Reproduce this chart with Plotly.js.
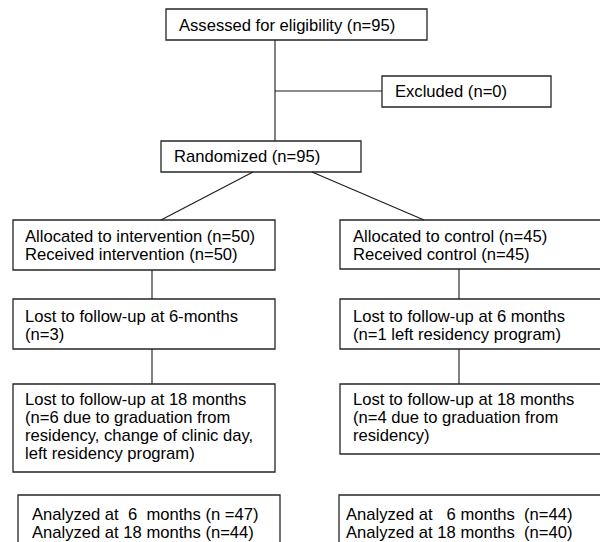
<!DOCTYPE html>
<html>
<head>
<meta charset="utf-8">
<script src="https://cdn.plot.ly/plotly-3.0.1.min.js"></script>
<style>html,body{margin:0;padding:0;background:#fff;}#chart{width:600px;height:542px;}</style>
</head>
<body>
<div id="chart"></div>
<script>
// ---- Flow-chart content (values) ----
var NB = "\u00A0";
var assessedLines   = ["Assessed for eligibility (n=95)"];
var excludedLines   = ["Excluded (n=0)"];
var randomizedLines = ["Randomized (n=95)"];
var intAllocLines   = ["Allocated to intervention (n=50)", "Received intervention (n=50)"];
var ctrlAllocLines  = ["Allocated to control (n=45)", "Received control (n=45)"];
var intLost6Lines   = ["Lost to follow-up at 6-months", "(n=3)"];
var ctrlLost6Lines  = ["Lost to follow-up at 6 months", "(n=1 left residency program)"];
var intLost18Lines  = ["Lost to follow-up at 18 months", "(n=6 due to graduation from", "residency, change of clinic day,", "left residency program)"];
var ctrlLost18Lines = ["Lost to follow-up at 18 months", "(n=4 due to graduation from", "residency)"];
var intAnalyzedLines  = ["Analyzed at" + NB + " 6" + NB + " months (n =47)", "Analyzed at 18 months (n=44)"];
var ctrlAnalyzedLines = ["Analyzed at" + NB + NB + " 6 months" + NB + " (n=44)", "Analyzed at 18 months" + NB + " (n=40)"];

// ---- Layout geometry (positions, in page pixels) ----
var boxes = [
  {lines: assessedLines,    x0:166, y0:9,   x1:427, y1:40,  tx:177, ty:25,  dy:18},
  {lines: excludedLines,    x0:382, y0:76,  x1:551, y1:107, tx:393, ty:91.5,dy:18},
  {lines: randomizedLines,  x0:161, y0:141, x1:361, y1:172, tx:172, ty:156.5,dy:18},
  {lines: intAllocLines,    x0:13,  y0:220, x1:275, y1:270, tx:23,  ty:236, dy:18},
  {lines: ctrlAllocLines,   x0:340, y0:220, x1:603, y1:269, tx:351, ty:236, dy:18},
  {lines: intLost6Lines,    x0:13,  y0:299, x1:275, y1:349, tx:23,  ty:316, dy:18},
  {lines: ctrlLost6Lines,   x0:340, y0:299, x1:603, y1:349, tx:351, ty:316, dy:18},
  {lines: intLost18Lines,   x0:13,  y0:384, x1:275, y1:472, tx:23,  ty:399, dy:18},
  {lines: ctrlLost18Lines,  x0:340, y0:384, x1:603, y1:454, tx:351, ty:399, dy:18},
  {lines: intAnalyzedLines, x0:18,  y0:495, x1:280, y1:546, tx:30,  ty:514, dy:18},
  {lines: ctrlAnalyzedLines,x0:339, y0:495, x1:603, y1:546, tx:344, ty:514, dy:18}
];
var connectors = [
  [275,40,275,141], [275,91,382,91],
  [253,172,161,220], [312,172,424,220],
  [152,270,152,299], [152,349,152,384],
  [459,269,459,299], [459,349,459,384]
];

var shapes = [];
var annotations = [];
boxes.forEach(function(b){
  shapes.push({type:'rect', xref:'x', yref:'y', x0:b.x0, y0:b.y0, x1:b.x1, y1:b.y1,
               line:{color:'#262626', width:1.3}, fillcolor:'rgba(0,0,0,0)'});
  b.lines.forEach(function(t,i){
    annotations.push({xref:'x', yref:'y', x:b.tx, y:b.ty + i*b.dy, text:t, showarrow:false,
      xanchor:'left', yanchor:'middle', font:{family:'Liberation Sans, Arial, sans-serif', size:16.6, color:'#000'}});
  });
});
connectors.forEach(function(c){
  shapes.push({type:'line', xref:'x', yref:'y', x0:c[0], y0:c[1], x1:c[2], y1:c[3],
               line:{color:'#1a1a1a', width:1.1}});
});

Plotly.newPlot('chart', [], {
  width:600, height:542,
  margin:{l:0, r:0, t:0, b:0},
  paper_bgcolor:'#fff', plot_bgcolor:'#fff',
  showlegend:false,
  xaxis:{range:[0,600], visible:false, fixedrange:true},
  yaxis:{range:[542,0], visible:false, fixedrange:true},
  shapes:shapes, annotations:annotations
}, {displayModeBar:false, staticPlot:true});
</script>
</body>
</html>
